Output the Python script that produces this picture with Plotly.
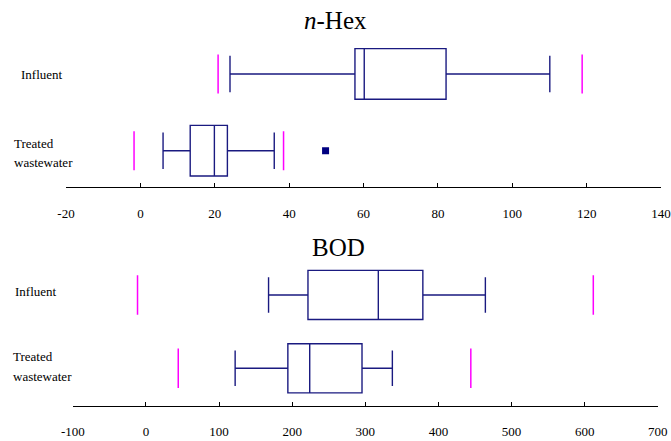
import plotly.graph_objects as go

# ---------------- data ----------------
categories = ["Influent", "Treated wastewater"]
cat_pos = [1, 0]

# n-Hex
nhex_lower_whisker = [24.1, 6.1]
nhex_q1 = [57.7, 13.4]
nhex_median = [60.2, 19.9]
nhex_q3 = [82.2, 23.4]
nhex_upper_whisker = [110.1, 36.0]
nhex_limit_low = [20.9, -1.7]
nhex_limit_high = [118.8, 38.5]
nhex_outliers_treated = [49.8]

# BOD
bod_lower_whisker = [167.7, 122.0]
bod_q1 = [221.6, 194.1]
bod_median = [317.8, 224.0]
bod_q3 = [378.7, 295.5]
bod_upper_whisker = [464.2, 337.0]
bod_limit_low = [-11.5, 44.2]
bod_limit_high = [611.8, 444.3]

nhex_ticks = [-20, 0, 20, 40, 60, 80, 100, 120, 140]
nhex_tick_labels = ["-20", "0", "20", "40", "60", "80", "100", "120", "140"]
bod_ticks = [-100, 0, 100, 200, 300, 400, 500, 600, 700]
bod_tick_labels = ["-100", "0", "100", "200", "300", "400", "500", "600", "700"]

# ---------------- style ----------------
W, H = 671, 441
NAVY = "#1a1a80"
MAGENTA = "#ff00ff"
SERIF = "Liberation Serif"

fig = go.Figure()


def add_panel(xa, ya, lw, q1, med, q3, uw, lo, hi, boxw, halfh):
    for i, pos in enumerate(cat_pos):
        fig.add_trace(go.Box(
            orientation="h", y=[pos], q1=[q1[i]], median=[med[i]], q3=[q3[i]],
            lowerfence=[lw[i]], upperfence=[uw[i]], width=boxw, whiskerwidth=0.72,
            line=dict(color=NAVY, width=1.4), fillcolor="rgba(255,255,255,0)",
            boxpoints=False, showlegend=False, xaxis=xa, yaxis=ya, name=categories[i],
            hoverinfo="skip"))
        for v in (lo[i], hi[i]):
            fig.add_trace(go.Scatter(
                x=[v, v], y=[pos - halfh, pos + halfh], mode="lines",
                line=dict(color=MAGENTA, width=1.5), showlegend=False,
                xaxis=xa, yaxis=ya, hoverinfo="skip"))


add_panel("x", "y", nhex_lower_whisker, nhex_q1, nhex_median, nhex_q3,
          nhex_upper_whisker, nhex_limit_low, nhex_limit_high, 0.66, 0.255)
fig.add_trace(go.Scatter(
    x=nhex_outliers_treated, y=[cat_pos[1]] * len(nhex_outliers_treated), mode="markers",
    marker=dict(symbol="square", size=7, color="#000080"), showlegend=False,
    xaxis="x", yaxis="y", hoverinfo="skip"))
add_panel("x2", "y2", bod_lower_whisker, bod_q1, bod_median, bod_q3,
          bod_upper_whisker, bod_limit_low, bod_limit_high, 0.67, 0.27)

axis_common = dict(showgrid=False, zeroline=False, showline=True, linecolor="black",
                   linewidth=1.3, ticks="inside", ticklen=4, tickwidth=1.3,
                   tickcolor="black", tickfont=dict(family=SERIF, size=13, color="black"),
                   ticklabelstandoff=14, automargin=False)

fig.update_layout(
    template="none",
    width=W, height=H, margin=dict(l=0, r=0, t=0, b=0, pad=0), autosize=False,
    paper_bgcolor="white", plot_bgcolor="white",
    xaxis=dict(domain=[66 / W, 661 / W], range=[-20, 140], tickvals=nhex_ticks,
               ticktext=nhex_tick_labels, anchor="y", **axis_common),
    yaxis=dict(domain=[(H - 187.3) / H, (H - 35.6) / H], range=[-0.477, 1.5],
               visible=False, fixedrange=True, automargin=False),
    xaxis2=dict(domain=[72.8 / W, 657.8 / W], range=[-100, 700], tickvals=bod_ticks,
                ticktext=bod_tick_labels, anchor="y2", **axis_common),
    yaxis2=dict(domain=[(H - 405.7) / H, (H - 258.3) / H], range=[-0.51, 1.5],
                visible=False, fixedrange=True, automargin=False),
)


def ann(text, x, y, size=13, xanchor="left"):
    fig.add_annotation(text=text, x=x / W, y=(H - y) / H, xref="paper", yref="paper",
                       xanchor=xanchor, yanchor="middle", showarrow=False,
                       font=dict(family=SERIF, size=size, color="black"))


ann("<i>n</i>-Hex", 335.5, 20.5, size=25, xanchor="center")
ann("BOD", 338, 247.5, size=25, xanchor="center")

ann(categories[0], 19, 75)
ann("Treated", 12, 143.3)
ann("wastewater", 12, 162.7)
ann(categories[0], 13, 291)
ann("Treated", 11, 356.7)
ann("wastewater", 11, 376.7)

fig.write_html(
    "out.html",
    config={"responsive": False, "displayModeBar": False},
    post_script="document.body.style.margin='0';document.body.style.overflow='hidden';",
)
